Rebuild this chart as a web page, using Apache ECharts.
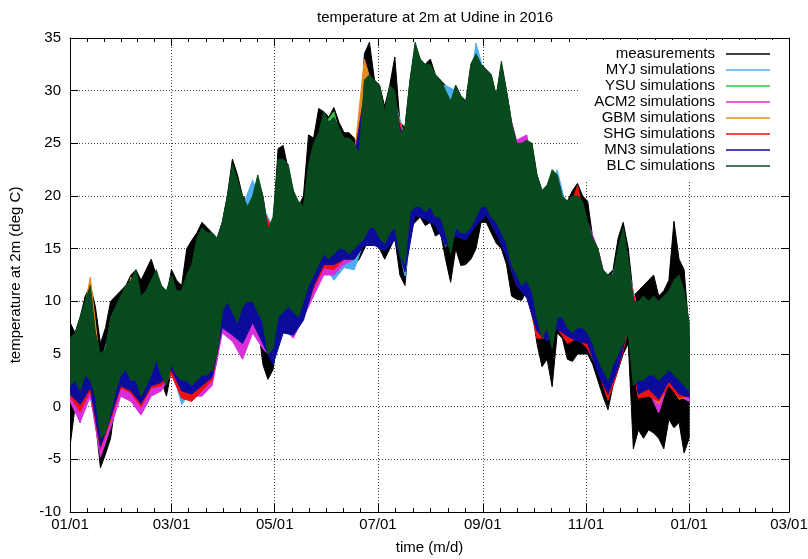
<!DOCTYPE html>
<html><head><meta charset="utf-8">
<script src="https://cdn.jsdelivr.net/npm/echarts@6/dist/echarts.min.js"></script>
<style>html,body{margin:0;padding:0;background:#fff}#c{width:808px;height:559px}</style>
</head><body><div id="c"></div>
<script>
// ---- tick labels / axis values ----
const xTickDates = ['2016-01-01','2016-03-01','2016-05-01','2016-07-01','2016-09-01','2016-11-01','2017-01-01','2017-03-01'];
const yMin = -10, yMax = 35, yStep = 5;
const seriesNames = ['measurements','MYJ simulations','YSU simulations','ACM2 simulations','GBM simulations','SHG simulations','MN3 simulations','BLC simulations'];
// sampling step in days of the envelope arrays (daily max / daily min)
const measStepDays = 3;
const simStepDays = 6;

// ---- measurements: upper / lower envelope, every 3 days from 01/01/2016 ----
const measHi = [8,7,8.5,10.5,11.5,9.5,6,7.5,10,10.5, 11,11.5,12.5,13,12,13,14,12.5,11.5,10.5, 13,12,11.5,15,15.8,16.5,17.5,17,16.5,16,
  17.5,20,23.5,22,20,19.5,19.5,21.5,20,17, 17,24.5,24.8,22.5,20.5,19,20,25.8,25.5,28.3, 28,27.5,28.4,27,26,26,25.5,24,33.5,34.6,
  31,30.5,28.5,30.5,33.2,27,26.5,31,34,33, 32.5,33,31.5,31,30.5,29,30.5,29.5,29,32.5, 33.5,32.5,32,31.5,29.5,32.5,30,27,25,25,
  25,25,22,20.5,21,22,22,20,19.5,20.5, 21.2,20,19.5,16,15,13,12.5,13,16,17.5, 15,10.5,11,11.5,12,12.5,10.5,11,12,17.6, 14,13,7];
const measLo = [-3.8,0,-1.5,2,1,-1.3,-5.8,-4.5,-3,0.5, 2.5,3,2,2,1,1.5,2.5,4,2.5,1, 3.5,2.5,2,2,1.5,2,2,1.7,2.5,4.5,
  8,9,8,7,8.5,9,9,8,4,2.6, 3.5,7,8,8.5,8,7.5,8.5,10,11,12, 13.5,13,13.5,14,14,13.5,13.5,14,15,16,
  16.2,15,14,15,16,12.5,11.5,17,17.5,18, 17.2,17.5,16.2,16.5,14,11.8,15,13.4,13.5,14, 15,17.5,17.5,16.5,15.5,15,13.5,10.5,10.2,10.1,
  11,9.5,6,3.8,4.5,1.9,7,6.5,4.5,4.3, 5,5,5,4,2.5,1,-0.3,2,3.5,5, 6,-4,-2.2,-3,-2.2,-2.5,-3,-4,-1.2,-2, -1.5,-4.4,-3];

// ---- BLC simulations (top layer), every 3 days ----
const blcHi = [6.5,7,8.5,10,11.5,7,5,5.5,8.5,9.5, 10.5,11.5,12,13,10.5,11,12,13,11.5,11, 12.5,11,11,12.5,13.5,16,17,16.5,16.5,16,
  17.5,20,23,21.5,20,19,20,22,20,16.8, 18,23.5,23.5,23,20.5,19.5,19,23,25,26, 28,27,27.5,26.5,25.5,25.5,25,24,31,31.5,
  31,30.5,28,30.5,30,26,26.5,31,34.6,33, 32.5,32.5,31.5,31,30,29,30.5,29.5,29,32.5, 33.5,32.5,32,31.5,29.5,32.8,30,27,25,25,
  25.3,25,22,20.5,21,22.5,22,20,19.5,20, 20,19.5,17.5,16,15,13,12.5,12.5,15,17, 14,10,10,10.5,10,10.5,10,10.5,11,12, 12.5,11,8];
const blcLo = [2,2.5,1.5,3,2.5,1,-3,-2.5,-0.5,1.5, 3,3.5,2.5,2.5,1,2,3,4.5,3,2, 4,3,2.5,2.5,2,2.5,3,3,3.5,5,
  9,10,9,8,9.5,10,10,9,8,5, 5.5,8.5,9,9.5,9,8.5,10,11.5,12.5,13.5, 14.5,14,14.5,15,15,14.5,15,15.5,16,17,
  17,16,15.5,16.5,17,14.5,13.5,18.5,19,19, 18.5,19,18,18,16.5,14.5,17,16.5,16.5,17, 18,19,19,18,17.5,16.5,15.5,13.5,12.5,11.5,
  12,11,8.5,6.5,7.5,5.5,8.5,8.5,7.5,7, 7.5,7.5,7,6,4.5,3.5,2.5,4,5,6, 7,2,2.5,2.5,3,3,2.5,3,3.5,3, 2.5,2,1.5];

// ---- other simulations, every 6 days ----
const myjHi = [5.5,7.5,10.3,4,7.5,9.5,11,9.5,11,10.5, 11.5,10,12.5,16,15.5,16.5,22,19,21.5,19, 17,22.5,19.5,18,24,27,26.5,24.5,24,30,
  30,27,29,25.5,33.5,31.5,30.5,30.5,30,28, 34.5,31,28.5,29,24,24.3,21,20,22.5,18.5, 19,16.5,14,11.5,14,13,9,9,9,10, 11.5,7];
const myjLo = [1.5,0.5,2,-3.5,-0.8,2.2,1.8,0.5,2.3,2.5, 3.7,0.2,1.5,2.2,3,8,7.5,7.5,8.5,7, 5,8,8,9,11.5,13.5,12,13.2,13,15.8,
  16.5,15.5,16.5,12.4,18.8,18.2,17.8,15.2,16.8,16.2, 17.8,18.8,17,15,12,11,7.5,7,8,7, 7,6.5,4,0.8,4,7.5,1.2,2,1,2.5, 1.5,1];
const ysuHi = [5.2,7.2,10.2,3.7,7.2,9.2,10.7,9.2,10.7,10.2, 11.2,9.7,12.2,15.7,15.2,16.2,21.7,18.7,18.7,18.7, 16.7,22.2,19.2,17.7,23.7,26.7,28,24.2,23.7,29.7,
  29.7,26.7,28.7,25.2,33.3,31.2,30.2,28.7,29.2,27.7, 32.2,30.7,28.2,28.7,23.7,24,20.7,19.7,20.7,18.2, 18.7,16.2,13.7,11.2,13.7,12.7,8.7,8.7,8.7,9.7, 11.2,6.7];
const ysuLo = [1.5,1,2,-3.4,-0.9,2.5,2,0.5,2.5,2.5, 3.6,2,1.6,2.5,3,8.5,8.5,8.8,9.3,7.5, 4.8,8.4,8.5,9.5,12,14,14,14.5,14.5,16,
  17,15.5,17,13.5,19,18.5,18,16.5,17,16.5, 18,19,17.5,15.5,12.5,12,8.5,7.5,8.5,7.5, 7.5,7,4.5,2.5,5,7.8,2,2.5,2,3, 2,1.2];
const acm2Hi = [5.2,7.2,10.2,3.7,7.2,9.2,10.7,9.2,10.7,10.2, 11.2,9.7,12.2,15.7,15.2,16.2,21.7,18.7,18.7,18.7, 16.7,22.2,19.2,17.7,23.7,26.7,26.2,24.2,23.7,29.7,
  29.7,26.7,28.7,25.2,33.3,31.2,30.2,28.7,29.2,27.7, 32.2,30.7,28.2,28.7,25.3,25.8,20.7,19.7,20.7,18.2, 18.7,17.5,15,11.2,13.7,12.7,8.7,8.7,8.7,9.7, 11.2,6.7];
const acm2Lo = [0.5,-1.5,1,-4.8,-2,1,0.5,-0.8,1,1.5, 3.2,1,1,1,2,7,6.2,4.5,7,5.5, 4.5,7.5,6.5,8.5,10.5,12.5,12.5,13.5,14,16,
  17,15.5,17,13.5,19,18.5,18,16.5,17,16.5, 18,19,17.5,15.5,12.5,10.5,8,7,8,7, 6.5,6,3.5,1.5,4,7.5,1.5,1.5,-0.6,2.5, 1,0.5];
const gbmHi = [5.2,7.2,12.3,3.7,7.2,9.2,12.3,9.2,10.7,10.2, 11.2,9.7,12.2,15.7,15.2,16.2,21.7,18.7,18.7,18.7, 16.7,22.2,19.2,17.7,23.7,26.7,26.2,24.2,23.7,33,
  29.7,26.7,28.7,25.2,33.3,31.2,30.2,28.7,29.2,27.7, 32.2,30.7,28.2,28.7,23.7,24,20.7,19.7,20.7,18.2, 18.7,16.2,13.7,11.2,13.7,12.7,8.7,8.7,8.7,9.7, 11.2,6.7];
const gbmLo = [1.3,0.8,1.8,-3.6,-1.2,2.3,1.8,0.3,2.3,2.3, 3.3,1.5,1.3,2.3,2.8,8.3,8.3,8.5,9.2,7.3, 4.8,8.3,8.3,9.3,11.8,13.8,13.8,14.3,14.3,15.8,
  16.8,15.3,16.8,13.3,18.8,18.3,17.8,16.3,16.8,16.3, 17.8,18.8,17.3,15.3,12.3,11.8,8.3,7.3,8.3,7.3, 7.3,6.8,4.3,2.3,4.8,7.3,0.9,1.2,0.3,2.3, 0.7,1];
const shgHi = [5.2,7.2,10.2,3.7,7.2,9.2,10.7,9.2,10.7,10.2, 11.2,9.7,12.2,15.7,15.2,16.2,21.7,18.7,18.7,18.7, 16.7,22.2,19.2,17.7,23.7,26.7,26.2,24.2,23.7,29.7,
  29.7,26.7,28.7,25.2,33.3,31.2,30.2,28.7,29.2,27.7, 32.2,30.7,28.2,28.7,23.7,24,20.7,19.7,20.7,18.2, 21,16.2,13.7,11.2,13.7,12.7,8.7,8.7,8.7,9.7, 11.2,6.7];
const shgLo = [1,-0.5,1.5,-4,-1.3,1.8,1.3,0,1.8,2, 3,0.8,0.5,1.5,2.5,7.8,7.2,6.5,8,6.5, 4.8,7.8,7.5,8.8,11.2,13.2,13,14,14,15.5,
  15.8,15,16.2,13,18.5,18,17.5,15.5,16.5,16, 17.5,18.5,16.8,14.5,11.5,10.8,6.5,6.5,7.5,6, 6.5,5.5,3.5,0.6,3.5,7.2,0.8,1,0.5,2, 0.8,1];
const mn3Hi = [5,7,10,3.5,7,9,10.5,9,10.5,10, 11,9.5,12,15.5,15,16,21.5,18.5,18.5,18.5, 15.5,22,19,17.5,23.5,26.5,26,24,23.5,29.5,
  29.5,26.5,28.5,24.5,33,31,30,28.5,29,27.5, 32,30.5,28,28.5,23.5,23.8,20.5,19.5,20.5,18, 18.5,16,13.5,11,13.5,12.5,8,8.5,8.5,9.5, 11,6.5];
const mn3Lo = [1.2,0.2,1.8,-3.8,-1,2,1.5,0.3,2,2.3, 3.5,1.5,1.2,2,2.8,7.5,6.8,6,8,6, 4,7,6.8,8.2,11.5,13.5,13.5,14,14,15.3,
  15.3,14.8,15.8,12.8,18.2,17.8,17.2,15.3,16.2,15.8, 17.2,18.2,16.4,14.3,11.5,10.3,7.2,6.2,7.4,6.7, 6.2,6,3.2,1.2,3.7,7.5,1.2,1.7,0.7,2.4, 1.2,0.9];

const colors = ['#000000','#4aaef0','#33c24a','#d92ed9','#e68a1a','#f01010','#0c0c9c','#074a1d'];

// ---- build ----
const DAY = 86400000;
function ts(s){ const p = s.split('-').map(Number); return Date.UTC(p[0], p[1]-1, p[2]); }
const majors = xTickDates.map(ts);
const T0 = majors[0], T1 = majors[majors.length-1];
const minors = [];
for (let i = 0; i < majors.length-1; i++) for (let k = 1; k < 6; k++) minors.push(majors[i] + (majors[i+1]-majors[i])*k/6);
const pad = n => (n < 10 ? '0' : '') + n;
const fmt = v => { const d = new Date(v); return pad(d.getUTCMonth()+1) + '/' + pad(d.getUTCDate()); };

function band(name, color, step, hi, lo) {
  return {
    name, type: 'custom', coordinateSystem: 'cartesian2d', xAxisIndex: 0, yAxisIndex: 0,
    itemStyle: { color }, data: [[T0, hi[0]]], encode: { x: 0, y: 1 },
    clip: true, silent: true, animation: false,
    renderItem(params, api) {
      const pts = [];
      for (let i = 0; i < hi.length; i++) pts.push(api.coord([T0 + i*step*DAY, hi[i]]));
      for (let i = lo.length-1; i >= 0; i--) pts.push(api.coord([T0 + i*step*DAY, lo[i]]));
      return { type: 'polygon', shape: { points: pts }, style: { fill: color, stroke: color, lineWidth: 1 } };
    }
  };
}

const FONT = "'Liberation Sans', Arial, sans-serif";
const grid = { left: 70, right: 19, top: 38, bottom: 47, outerBoundsMode: 'none', containLabel: false };
const tickStyle = { color: '#000', width: 1 };
const dotted = { color: '#444', width: 1, type: [1, 2] };

function xAx(pos, customTicks, len, opts) {
  return Object.assign({
    type: 'value', position: pos, min: T0, max: T1, gridIndex: 0,
    axisLine: { show: false, onZero: false }, axisLabel: { show: false }, splitLine: { show: false },
    axisTick: { show: true, inside: true, length: len, customValues: customTicks, lineStyle: tickStyle }
  }, opts || {});
}

const option = {
  animation: false,
  backgroundColor: '#fff',
  textStyle: { fontFamily: FONT },
  title: { text: 'temperature at 2m at Udine in 2016', left: 430, top: 5, textAlign: 'center',
    textStyle: { fontFamily: FONT, fontSize: 15, fontWeight: 'normal', color: '#000' } },
  grid,
  legend: {
    orient: 'vertical', right: 19, top: 40, align: 'right', icon: 'rect', itemWidth: 44, itemHeight: 1.5, itemGap: 0,
    backgroundColor: '#fff', padding: [6, 19, 6, 14],
    textStyle: { fontFamily: FONT, fontSize: 15, color: '#000', lineHeight: 16, padding: [0, 6, 0, 0] },
    data: seriesNames.map(n => ({ name: n, icon: 'rect' }))
  },
  xAxis: [
    xAx('bottom', majors, 8, {
      axisLine: { show: true, onZero: false, lineStyle: { color: '#000', width: 1 } },
      axisLabel: { show: true, customValues: majors, formatter: fmt, fontSize: 15, color: '#000', margin: 5, fontFamily: FONT },
      splitLine: { show: true, lineStyle: dotted },
      name: 'time (m/d)', nameLocation: 'middle', nameGap: 28,
      nameTextStyle: { fontSize: 15, color: '#000', fontFamily: FONT }
    }),
    xAx('bottom', minors, 4),
    xAx('top', majors, 8, { axisLine: { show: true, onZero: false, lineStyle: { color: '#000', width: 1 } } }),
    xAx('top', minors, 4)
  ],
  yAxis: [
    { type: 'value', position: 'left', min: yMin, max: yMax, interval: yStep,
      axisLine: { show: true, onZero: false, lineStyle: { color: '#000', width: 1 } },
      axisTick: { show: true, inside: true, length: 8, lineStyle: tickStyle },
      axisLabel: { fontSize: 15, color: '#000', margin: 9, fontFamily: FONT },
      splitLine: { show: true, lineStyle: dotted },
      name: 'temperature at 2m (deg C)', nameLocation: 'middle', nameGap: 47, nameRotate: 90,
      nameTextStyle: { fontSize: 15, color: '#000', fontFamily: FONT } },
    { type: 'value', position: 'right', min: yMin, max: yMax, interval: yStep,
      axisLine: { show: true, onZero: false, lineStyle: { color: '#000', width: 1 } },
      axisTick: { show: true, inside: true, length: 8, lineStyle: tickStyle },
      axisLabel: { show: false }, splitLine: { show: false } }
  ],
  series: [
    band(seriesNames[0], colors[0], measStepDays, measHi, measLo),
    band(seriesNames[1], colors[1], simStepDays, myjHi, myjLo),
    band(seriesNames[2], colors[2], simStepDays, ysuHi, ysuLo),
    band(seriesNames[3], colors[3], simStepDays, acm2Hi, acm2Lo),
    band(seriesNames[4], colors[4], simStepDays, gbmHi, gbmLo),
    band(seriesNames[5], colors[5], simStepDays, shgHi, shgLo),
    band(seriesNames[6], colors[6], simStepDays, mn3Hi, mn3Lo),
    band(seriesNames[7], colors[7], measStepDays, blcHi, blcLo)
  ]
};
const chart = echarts.init(document.getElementById('c'), null, { renderer: 'canvas' });
chart.setOption(option);
</script>
</body></html>
